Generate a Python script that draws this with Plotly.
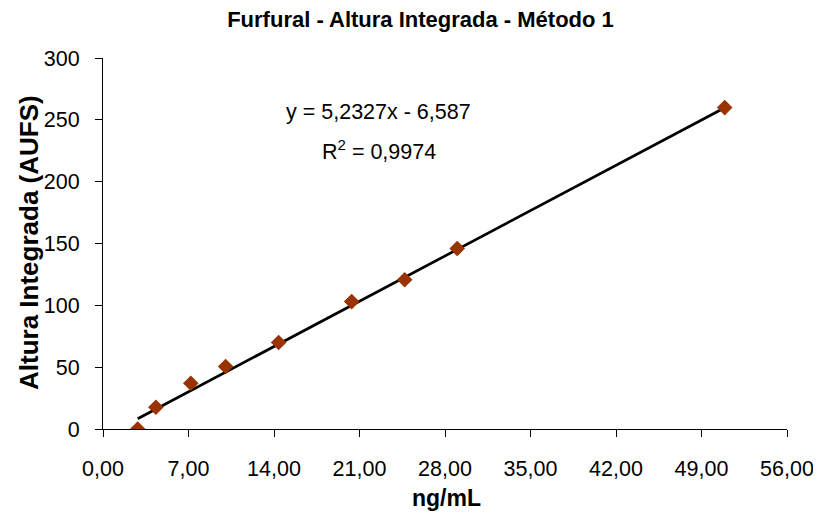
import plotly.graph_objects as go

# Data
conc_ng_ml = [2.84, 4.33, 7.19, 10.04, 14.38, 20.36, 24.70, 29.00, 50.90]
altura_aufs = [0.0, 17.6, 37.0, 50.5, 70.0, 103.0, 120.7, 145.9, 259.9]

# Linear trendline coefficients (as printed on the chart)
slope = 5.2327
intercept = -6.587
r_squared = 0.9974

x_tick_vals = [0, 7, 14, 21, 28, 35, 42, 49, 56]
y_tick_vals = [0, 50, 100, 150, 200, 250, 300]

FONT = "Liberation Sans, Arial, sans-serif"
# The page body adds an 8px margin, so the figure is drawn 8px smaller
# and every reference pixel position is shifted by that offset.
OFF = 8
W, H = 821 - OFF, 518 - OFF
PLOT_L, PLOT_R, PLOT_T, PLOT_B = 103 - OFF, 787 - OFF, 58 - OFF, 429 - OFF
ML, MR, MT, MB = PLOT_L, W - PLOT_R, PLOT_T, H - PLOT_B

x_min, x_max = min(conc_ng_ml), max(conc_ng_ml)
trend_x = [x_min, x_max]
trend_y = [slope * v + intercept for v in trend_x]

fig = go.Figure()
fig.add_trace(go.Scatter(
    x=trend_x, y=trend_y, mode="lines",
    line=dict(color="black", width=2.7),
    showlegend=False, hoverinfo="skip",
))
fig.add_trace(go.Scatter(
    x=conc_ng_ml, y=altura_aufs, mode="markers",
    marker=dict(symbol="diamond", size=12, color="#993300", line=dict(width=0)),
    showlegend=False,
))

eq_text = "y = " + f"{slope:.4f}".replace(".", ",") + "x - " + f"{abs(intercept):.3f}".replace(".", ",")
r2_text = "R<sup>2</sup> = " + f"{r_squared:.4f}".replace(".", ",")


def px_to_paper_x(px):
    return (px - OFF - ML) / (W - ML - MR)


def px_to_paper_y(py):
    return (H - MB - (py - OFF)) / (H - MT - MB)


fig.update_layout(
    width=W, height=H,
    margin=dict(l=ML, r=MR, t=MT, b=MB),
    paper_bgcolor="white", plot_bgcolor="white",
    separators=", ",
    title=dict(text="<b>Furfural - Altura Integrada - Método 1</b>",
               x=(420.5 - OFF) / W, xanchor="center", xref="container",
               y=1 - (19 - OFF) / H, yanchor="middle", yref="container",
               font=dict(family=FONT, size=22, color="black")),
    font=dict(family=FONT, size=21.5, color="black"),
)


def add_text(text, px, py, size, angle=0):
    fig.add_annotation(text=text, x=px_to_paper_x(px), y=px_to_paper_y(py),
                       xref="paper", yref="paper", showarrow=False,
                       xanchor="center", yanchor="middle", textangle=angle,
                       font=dict(family=FONT, size=size, color="black"))


add_text(eq_text, 378, 112, 21.5)
add_text(r2_text, 379, 150, 21.5)
add_text("<b>ng/mL</b>", 446, 498, 23)
add_text("<b>Altura Integrada (AUFS)</b>", 29, 243, 26, angle=-90)

fig.update_xaxes(
    range=[0, 56], tickvals=x_tick_vals, tickformat=".2f",
    showline=True, linecolor="black", linewidth=1,
    ticks="outside", ticklen=7, tickcolor="black", tickwidth=1,
    showgrid=False, zeroline=False, automargin=False,
    ticklabelstandoff=13,
    tickfont=dict(family=FONT, size=21.5, color="black"),
)
fig.update_yaxes(
    range=[0, 300], tickvals=y_tick_vals,
    showline=True, linecolor="black", linewidth=1,
    ticks="outside", ticklen=7, tickcolor="black", tickwidth=1,
    showgrid=False, zeroline=False, automargin=False,
    ticklabelstandoff=11,
    tickfont=dict(family=FONT, size=21.5, color="black"),
)

fig.write_html("out.html")
